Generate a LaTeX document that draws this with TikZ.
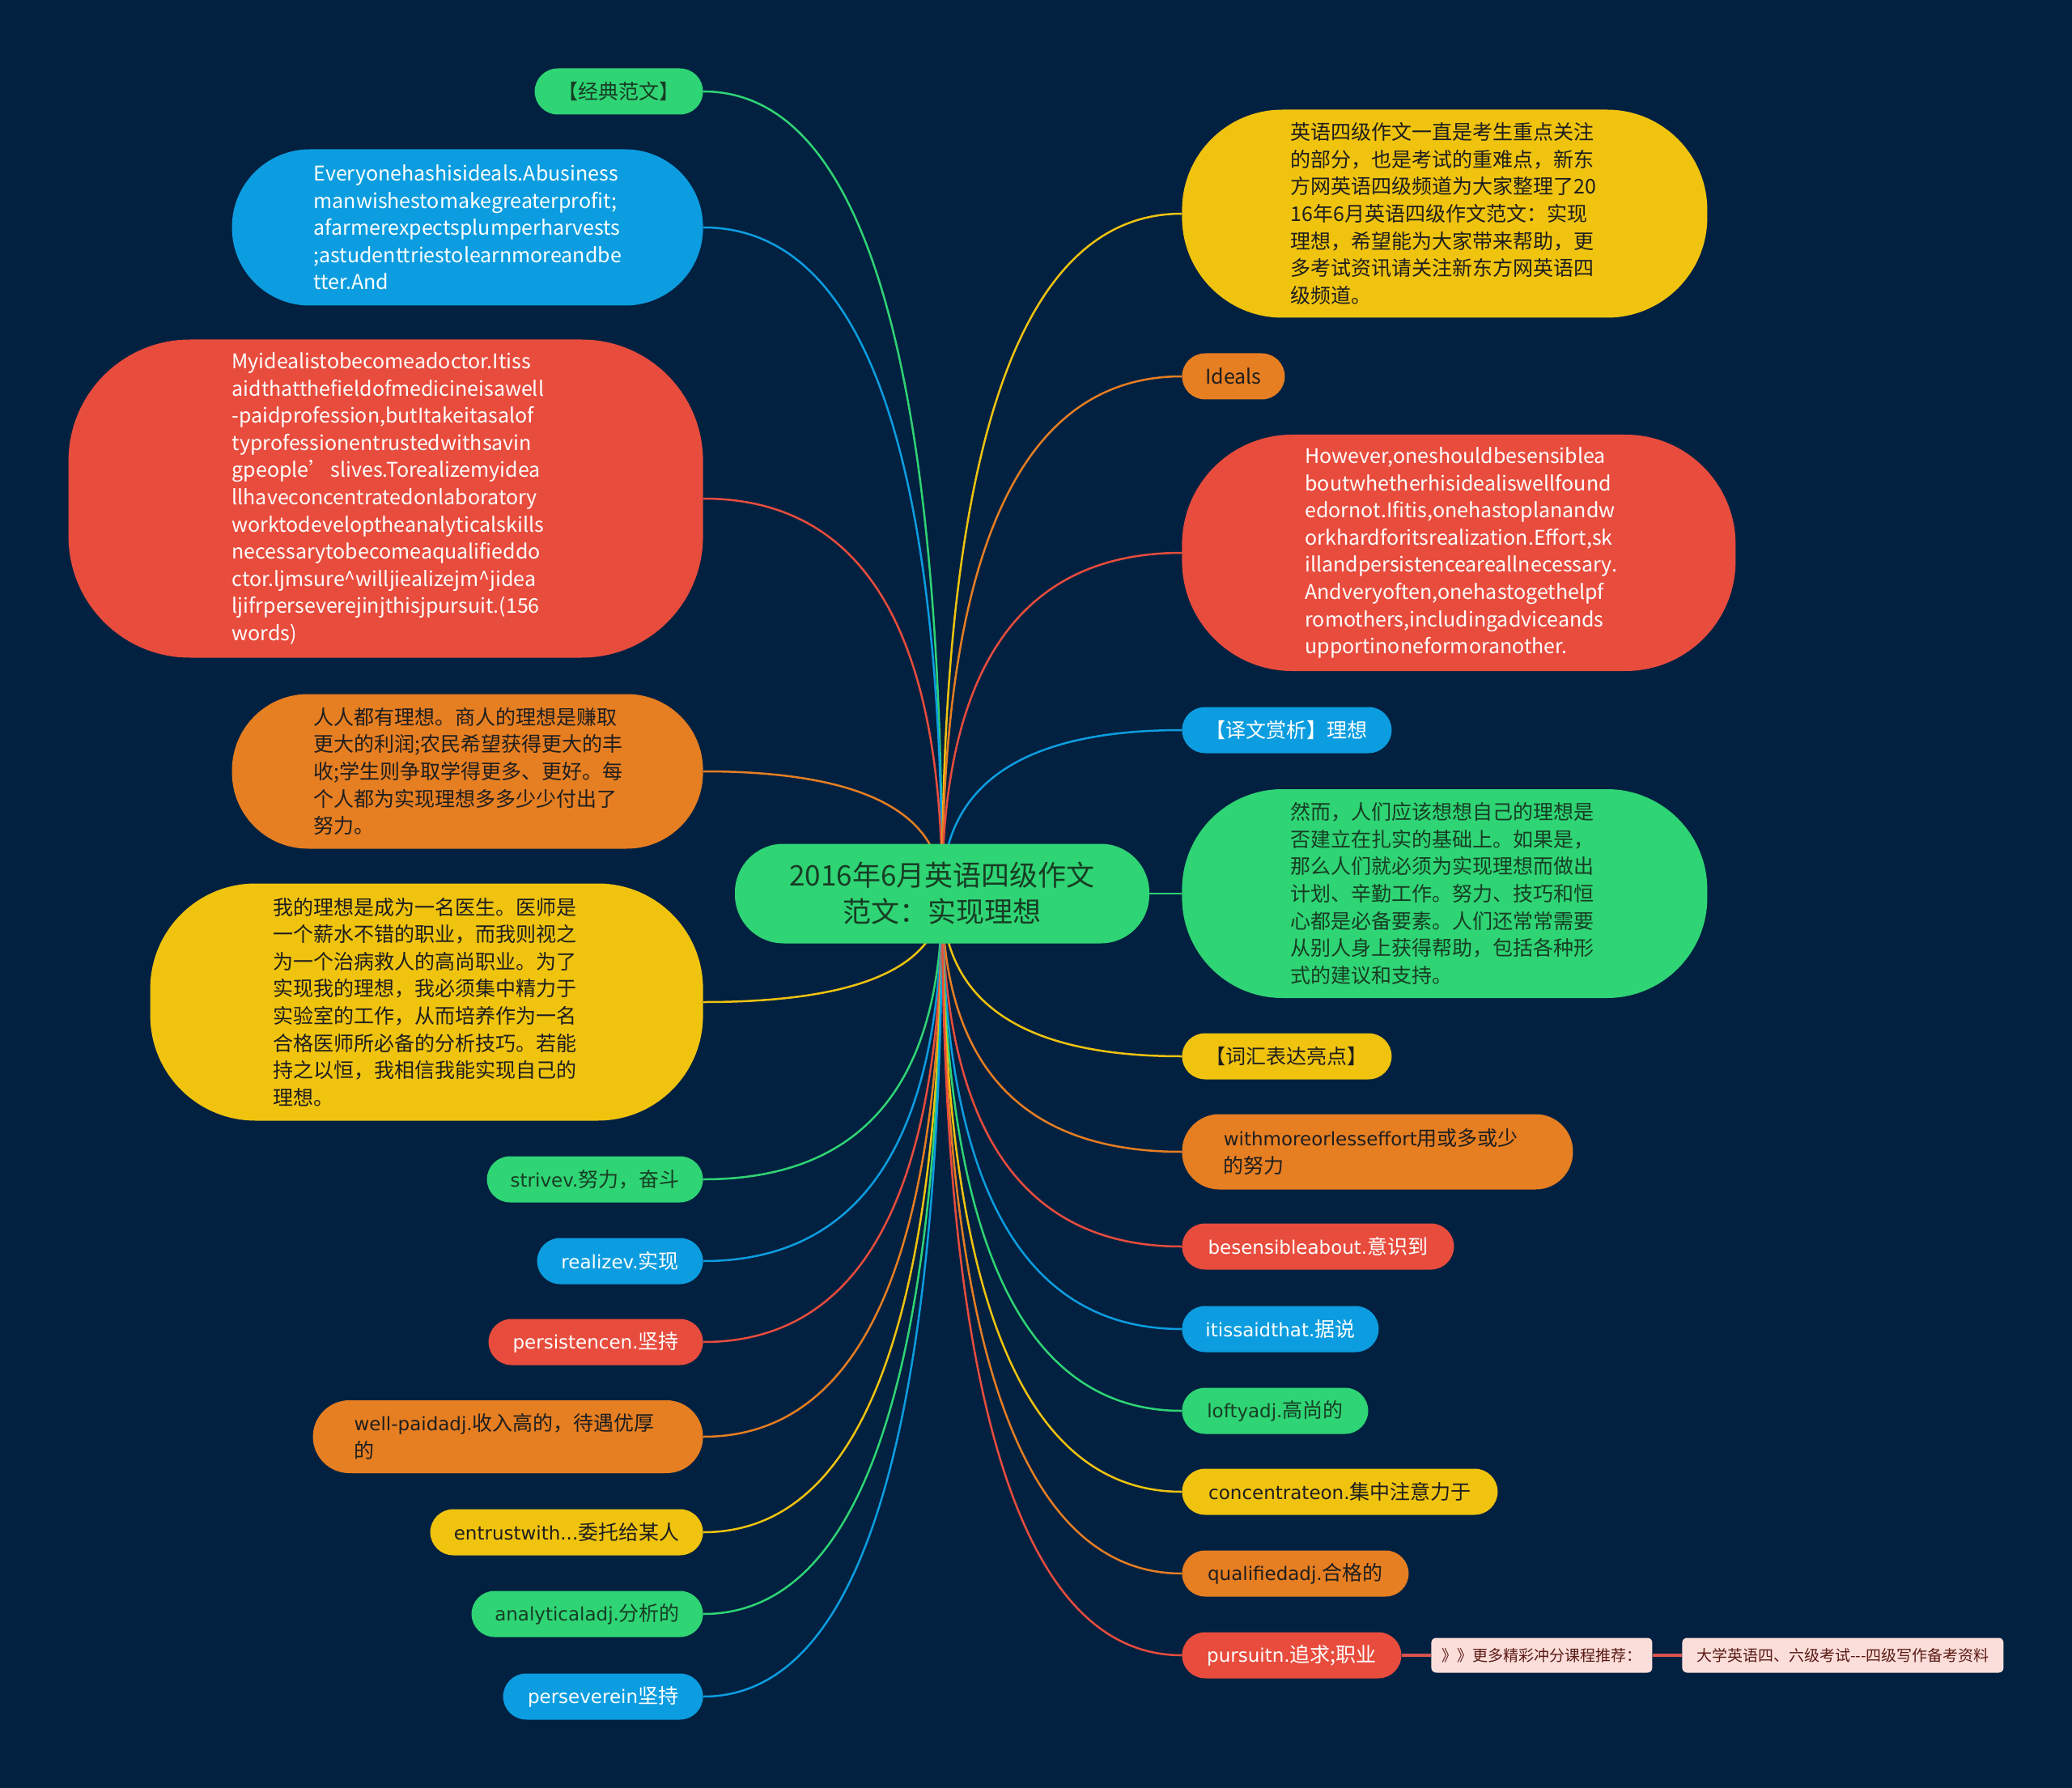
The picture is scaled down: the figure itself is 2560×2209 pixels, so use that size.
\documentclass[tikz,border=0pt]{standalone}
\usepackage{fontspec}
\setmainfont{Noto Sans CJK SC}
\newfontfamily\dvfont{DejaVu Sans}
\usetikzlibrary{calc,backgrounds}
\definecolor{cbg}{HTML}{022140}
\definecolor{cgreen}{HTML}{2FD474}
\definecolor{cblue}{HTML}{0C9DE0}
\definecolor{cred}{HTML}{E84C3D}
\definecolor{corange}{HTML}{E67E22}
\definecolor{cyellow}{HTML}{F0C30F}
\definecolor{cdark}{HTML}{1E1E1E}
\definecolor{cdkgreen}{HTML}{173D24}
\definecolor{cpink}{HTML}{FBDEDA}
\definecolor{cpinktext}{HTML}{5A1A14}
\definecolor{cpinkline}{HTML}{D9534F}
\newcommand\lt[1]{{\dvfont\fontsize{11.5pt}{15pt}\selectfont #1}}
\newcommand\lk[3]{\draw[edge,#1] (root.center) .. controls ($(root.center)!0.667!(root.center |- #2.#3)$) and ($(#2.#3)!0.667!(root.center |- #2.#3)$) .. (#2.#3);}
\begin{document}
\begin{tikzpicture}[x=0.5pt,y=-0.5pt,
  box/.style={inner sep=0pt, font=\fontsize{12.5pt}{16.8pt}\selectfont},
  big/.style={box, align=left, text width=190pt},
  small/.style={box, align=center, minimum height=28.5pt, rounded corners=14.25pt},
  lnode/.style={anchor=east},
  rnode/.style={anchor=west},
  gr/.style={fill=cgreen, text=cdkgreen},
  bl/.style={fill=cblue, text=white},
  rd/.style={fill=cred, text=white},
  og/.style={fill=corange, text=cdark},
  yl/.style={fill=cyellow, text=cdark},
  edge/.style={line width=1.25pt},
  pinkbox/.style={fill=cpink, text=cpinktext, rounded corners=3pt, inner sep=0pt, minimum height=21.5pt, font=\fontsize{9.5pt}{12pt}\selectfont}
]
\useasboundingbox (0,0) rectangle (2560,2209);

% root
\node[box, gr, align=center, minimum width=256pt, minimum height=61.5pt, rounded corners=30pt, font=\fontsize{17.5pt}{22.5pt}\selectfont] (root) at (1164,1104) {2016年6月英语四级作文\\范文：实现理想};

% left side
\node[small, gr, lnode, minimum width=104pt] (L1) at (869,113) {【经典范文】};
\node[big, bl, lnode, minimum width=291pt, minimum height=96.5pt, rounded corners=48pt] (L2) at (869,281) {Everyonehashisideals.Abusiness\\manwishestomakegreaterprofit;\\afarmerexpectsplumperharvests\\;astudenttriestolearnmoreandbe\\tter.And};
\node[big, rd, lnode, minimum width=392pt, minimum height=196.5pt, rounded corners=75pt] (L3) at (869,616) {Myidealistobecomeadoctor.Itiss\\aidthatthefieldofmedicineisawell\\-paidprofession,butItakeitasalof\\typrofessionentrustedwithsavin\\\mbox{gpeople’\hspace{1pt}slives.Torealizemyidea}\\llhaveconcentratedonlaboratory\\worktodeveloptheanalyticalskills\\necessarytobecomeaqualifieddo\\ctor.ljmsure\textasciicircum willjiealizejm\textasciicircum jidea\\ljifrperseverejinjthisjpursuit.(156\\words)};
\node[big, og, lnode, minimum width=291pt, minimum height=95.5pt, rounded corners=47pt] (L4) at (869,953) {人人都有理想。商人的理想是赚取\\更大的利润;农民希望获得更大的丰\\收;学生则争取学得更多、更好。每\\个人都为实现理想多多少少付出了\\努力。};
\node[big, yl, lnode, minimum width=341.5pt, minimum height=146.5pt, rounded corners=65pt] (L5) at (869,1238) {我的理想是成为一名医生。医师是\\一个薪水不错的职业，而我则视之\\为一个治病救人的高尚职业。为了\\实现我的理想，我必须集中精力于\\实验室的工作，从而培养作为一名\\合格医师所必备的分析技巧。若能\\持之以恒，我相信我能实现自己的\\理想。};
\node[small, gr, lnode, minimum width=133.5pt] (L6) at (869,1457) {\lt{strivev.}努力，奋斗};
\node[small, bl, lnode, minimum width=102.5pt] (L7) at (869,1558) {\lt{realizev.}实现};
\node[small, rd, lnode, minimum width=132.5pt] (L8) at (869,1658) {\lt{persistencen.}坚持};
\node[small, og, lnode, align=left, text width=190pt, minimum width=241pt, minimum height=45pt, rounded corners=22.5pt] (L9) at (869,1775) {\lt{well-paidadj.}收入高的，待遇优厚\\的};
\node[small, yl, lnode, minimum width=168.5pt] (L10) at (869,1893) {\lt{entrustwith...}委托给某人};
\node[small, gr, lnode, minimum width=143pt] (L11) at (869,1994) {\lt{analyticaladj.}分析的};
\node[small, bl, lnode, minimum width=123.5pt] (L12) at (869,2096) {\lt{perseverein}坚持};

% right side
\node[big, yl, rnode, minimum width=324.5pt, minimum height=128.5pt, rounded corners=62pt] (R1) at (1460,264) {英语四级作文一直是考生重点关注\\的部分，也是考试的重难点，新东\\方网英语四级频道为大家整理了20\\16年6月英语四级作文范文：实现\\理想，希望能为大家带来帮助，更\\多考试资讯请关注新东方网英语四\\级频道。};
\node[small, og, rnode, minimum width=63.5pt] (R2) at (1460,465) {Ideals};
\node[big, rd, rnode, minimum width=342pt, minimum height=146pt, rounded corners=68pt] (R3) at (1460,683) {However,oneshouldbesensiblea\\boutwhetherhisidealiswellfound\\edornot.Ifitis,onehastoplanandw\\orkhardforitsrealization.Effort,sk\\illandpersistenceareallnecessary.\\Andveryoften,onehastogethelpf\\romothers,includingadviceands\\upportinoneformoranother.};
\node[small, bl, rnode, minimum width=129.5pt] (R4) at (1460,902) {【译文赏析】理想};
\node[big, gr, rnode, minimum width=324.5pt, minimum height=129pt, rounded corners=62pt] (R5) at (1460,1104) {然而，人们应该想想自己的理想是\\否建立在扎实的基础上。如果是，\\那么人们就必须为实现理想而做出\\计划、辛勤工作。努力、技巧和恒\\心都是必备要素。人们还常常需要\\从别人身上获得帮助，包括各种形\\式的建议和支持。};
\node[small, yl, rnode, minimum width=129.5pt] (R6) at (1460,1305) {【词汇表达亮点】};
\node[small, og, rnode, align=left, text width=190pt, minimum width=241.5pt, minimum height=46.5pt, rounded corners=23pt] (R7) at (1460,1423) {\lt{withmoreorlesseffort}用或多或少\\的努力};
\node[small, rd, rnode, minimum width=168pt] (R8) at (1460,1540) {\lt{besensibleabout.}意识到};
\node[small, bl, rnode, minimum width=121.5pt] (R9) at (1460,1642) {\lt{itissaidthat.}据说};
\node[small, gr, rnode, minimum width=115pt] (R10) at (1460,1743) {\lt{loftyadj.}高尚的};
\node[small, yl, rnode, minimum width=195pt] (R11) at (1460,1843) {\lt{concentrateon.}集中注意力于};
\node[small, og, rnode, minimum width=140pt] (R12) at (1460,1944) {\lt{qualifiedadj.}合格的};
\node[small, rd, rnode, minimum width=135.5pt] (R13) at (1460,2045) {\lt{pursuitn.}追求;职业};
\node[pinkbox, anchor=west, minimum width=136.5pt] (P1) at (1768,2045) {》》更多精彩冲分课程推荐：};
\node[pinkbox, anchor=west, minimum width=198.5pt] (P2) at (2078,2045) {大学英语四、六级考试-{}-{}-四级写作备考资料};

\begin{pgfonlayer}{background}
\fill[cbg] (0,0) rectangle (2560,2209);
\lk{cgreen}{L1}{east}
\lk{cblue}{L2}{east}
\lk{cred}{L3}{east}
\lk{corange}{L4}{east}
\lk{cyellow}{L5}{east}
\lk{cgreen}{L6}{east}
\lk{cblue}{L7}{east}
\lk{cred}{L8}{east}
\lk{corange}{L9}{east}
\lk{cyellow}{L10}{east}
\lk{cgreen}{L11}{east}
\lk{cblue}{L12}{east}
\lk{cyellow}{R1}{west}
\lk{corange}{R2}{west}
\lk{cred}{R3}{west}
\lk{cblue}{R4}{west}
\lk{cgreen}{R5}{west}
\lk{cyellow}{R6}{west}
\lk{corange}{R7}{west}
\lk{cred}{R8}{west}
\lk{cblue}{R9}{west}
\lk{cgreen}{R10}{west}
\lk{cyellow}{R11}{west}
\lk{corange}{R12}{west}
\lk{cred}{R13}{west}
\draw[cpinkline, line width=2pt] (R13.east) -- (P1.west);
\draw[cpinkline, line width=2pt] (P1.east) -- (P2.west);
\end{pgfonlayer}
\end{tikzpicture}
\end{document}
